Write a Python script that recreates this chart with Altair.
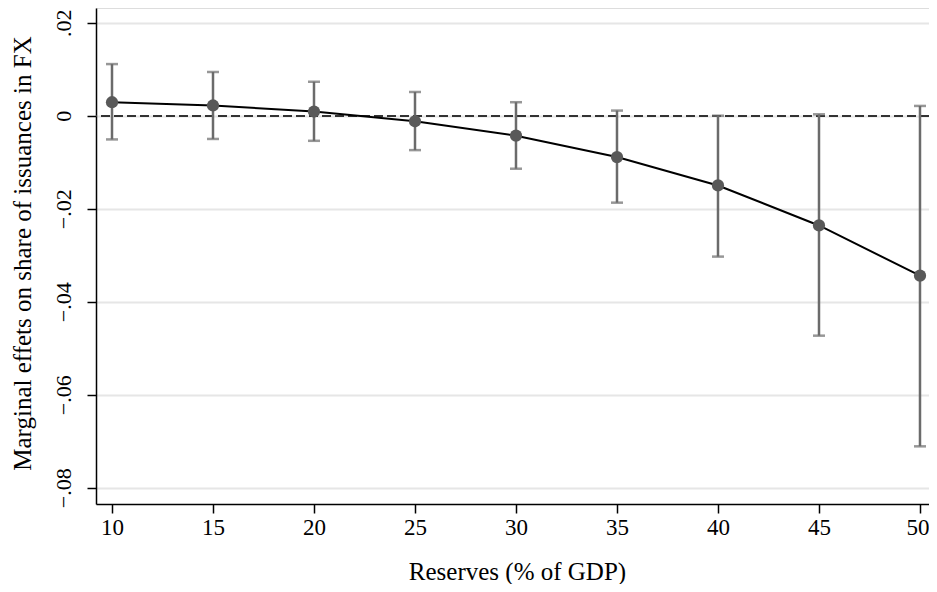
import altair as alt
import pandas as pd

reserves = [10, 15, 20, 25, 30, 35, 40, 45, 50]
effect = [0.0029, 0.0022, 0.0009, -0.0012, -0.0043, -0.0089, -0.0150, -0.0236, -0.0344]
ci_low = [-0.0051, -0.0050, -0.0054, -0.0074, -0.0114, -0.0187, -0.0303, -0.0473, -0.0711]
ci_high = [0.0111, 0.0094, 0.0073, 0.0051, 0.0029, 0.0011, 0.0000, 0.0003, 0.0021]
y_ticks = [-0.08, -0.06, -0.04, -0.02, 0.0, 0.02]
x_ticks = [10, 15, 20, 25, 30, 35, 40, 45, 50]

df = pd.DataFrame({"x": reserves, "y": effect, "lo": ci_low, "hi": ci_high})

FONT = "Liberation Serif"
W, H = 833, 496

xscale = alt.Scale(domain=[9.208, 50.446], nice=False, zero=False)
yscale = alt.Scale(domain=[-0.0835, 0.02316], nice=False, zero=False)

xaxis = alt.Axis(
    values=x_ticks, title="Reserves (% of GDP)", grid=False,
    labelFont=FONT, labelFontSize=23, labelColor="black", labelPadding=3,
    labelFlush=10, labelFlushOffset=9,
    tickSize=9, tickColor="black", tickWidth=1.5,
    domainColor="black", domainWidth=1.5,
    titleFont=FONT, titleFontSize=25, titleFontWeight="normal", titleColor="black",
    titleX=421, titleY=75, titleAlign="center", titleBaseline="alphabetic",
)
yaxis = alt.Axis(
    values=y_ticks, title="Marginal effets on share of issuances in FX",
    labelExpr="datum.value == 0 ? '0' : replace(format(datum.value, '.2f'), '0.', '.')",
    labelFont=FONT, labelFontSize=22, labelColor="black", labelAngle=270,
    labelAlign="center", labelBaseline="bottom", labelPadding=12,
    tickSize=9, tickColor="black", tickWidth=1.5,
    domainColor="black", domainWidth=1.5,
    grid=True, gridColor="#e6e6e6", gridWidth=2,
    titleFont=FONT, titleFontSize=25, titleFontWeight="normal", titleColor="black",
    titleAngle=270, titleX=-74, titleY=245, titleAlign="center", titleBaseline="middle",
)

base = alt.Chart(df)

zero = base.mark_rule(color="#333333", strokeWidth=1.5, strokeDash=[9, 4]).encode(
    y=alt.datum(0, scale=yscale, axis=yaxis)
)

bars = base.mark_rule(color="#6b6b6b", strokeWidth=2.5).encode(
    x=alt.X("x:Q", scale=xscale, axis=xaxis),
    y=alt.Y("lo:Q", scale=yscale),
    y2="hi:Q",
)
cap_lo = base.mark_tick(color="#6b6b6b", orient="horizontal", size=12, thickness=2.5).encode(
    x=alt.X("x:Q", scale=xscale), y=alt.Y("lo:Q", scale=yscale)
)
cap_hi = base.mark_tick(color="#6b6b6b", orient="horizontal", size=12, thickness=2.5).encode(
    x=alt.X("x:Q", scale=xscale), y=alt.Y("hi:Q", scale=yscale)
)
line = base.mark_line(color="black", strokeWidth=2).encode(
    x=alt.X("x:Q", scale=xscale), y=alt.Y("y:Q", scale=yscale)
)
pts = base.mark_circle(color="#595959", size=150, opacity=1).encode(
    x=alt.X("x:Q", scale=xscale), y=alt.Y("y:Q", scale=yscale)
)

chart = alt.layer(zero, bars, cap_lo, cap_hi, line, pts).properties(
    width=W, height=H,
    autosize=alt.AutoSizeParams(type="none"),
    padding={"left": 88, "top": 0, "right": 0, "bottom": 80},
).configure_view(stroke=None).configure(background="white")

chart.save("out.html", embed_options={"renderer": "svg", "actions": False})
